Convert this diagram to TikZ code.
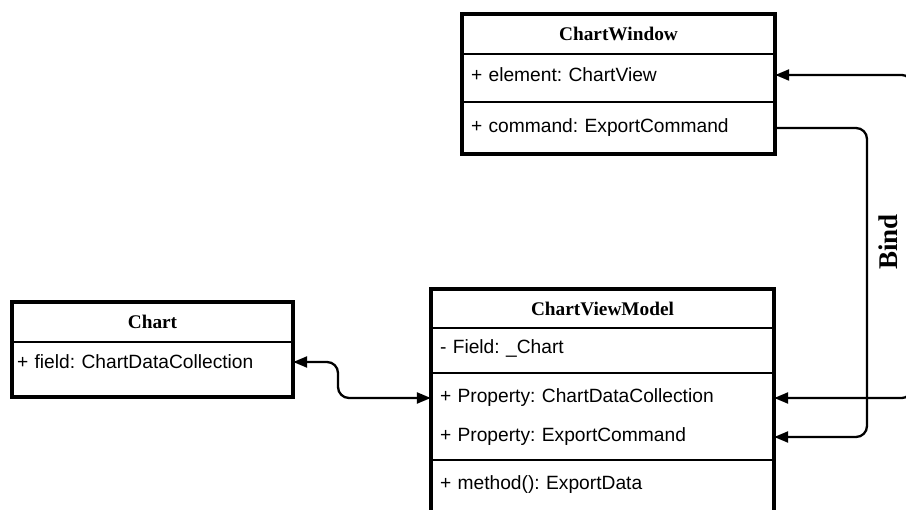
\documentclass[tikz,border=0pt]{standalone}
\usepackage{fontspec}
\setmainfont{Liberation Serif}
\setsansfont{Liberation Sans}
\usetikzlibrary{arrows.meta}
\frenchspacing
\begin{document}
\begin{tikzpicture}[x=1pt,y=-1pt,
  boxline/.style={draw=black,line width=3.1pt},
  sepline/.style={draw=black,line width=1.3pt},
  hdr/.style={font=\fontsize{19.3}{22}\selectfont\bfseries, inner sep=0pt},
  rowtxt/.style={font=\sffamily\fontsize{19.2}{22}\selectfont, align=left, inner xsep=9pt, inner ysep=0pt, anchor=center},
  conn/.style={draw=black,line width=2.3pt},
  tipstyle/.style={Triangle[length=14pt,width=11pt]}
]
\useasboundingbox (0,0) rectangle (906,510);
% ChartWindow
\draw[boxline] (462,14) rectangle (775,154);
\draw[sepline] (462,54) -- (775,54);
\draw[sepline] (462,102) -- (775,102);
\node[hdr] (cwh) at (618.5,34) {ChartWindow};
\node[rowtxt, text width=295pt] (cwe) at (618.5,75) {+ element: ChartView};
\node[rowtxt, text width=295pt] (cwc) at (618.5,128) {+ command: ExportCommand};
% Chart
\draw[boxline] (12,302) rectangle (293,397);
\draw[sepline] (12,342) -- (293,342);
\node[hdr] (chh) at (152.5,322) {Chart};
\node[rowtxt, inner xsep=5pt, text width=271pt] (chf) at (152.5,362) {+ field: ChartDataCollection};
% ChartViewModel
\draw[boxline] (431,530) -- (431,289) -- (774,289) -- (774,530);
\draw[sepline] (431,328) -- (774,328);
\draw[sepline] (431,373) -- (774,373);
\draw[sepline] (431,460) -- (774,460);
\node[hdr] (vmh) at (602.5,308.5) {ChartViewModel};
\node[rowtxt, text width=325pt] (vmf) at (602.5,348) {- Field: \_Chart};
\node[rowtxt, text width=325pt] (vp1) at (602.5,398) {+ Property: ChartDataCollection};
\node[rowtxt, text width=325pt] (vp2) at (602.5,437) {+ Property: ExportCommand};
\node[rowtxt, text width=325pt] (vm) at (602.5,485) {+ method(): ExportData};
% connectors
\draw[conn, rounded corners=11pt, {Triangle[length=14pt,width=11pt]}-{Triangle[length=14pt,width=11pt]}] (chf.east) -- (338,362) -- (338,398) -- (vp1.west);
\draw[conn, rounded corners=9pt, {Triangle[length=14pt,width=11pt]}-{Triangle[length=14pt,width=11pt]}] (cwe.east) -- (911,75) -- (911,398) -- (vp1.east);
\draw[conn, rounded corners=11pt, -{Triangle[length=14pt,width=11pt]}] (cwc.east) -- (867,128) -- (867,437) -- (vp2.east);
\node[font=\fontsize{27}{30}\selectfont\bfseries, rotate=90, inner sep=0pt] (bind) at (888,242) {Bind};
\end{tikzpicture}
\end{document}
